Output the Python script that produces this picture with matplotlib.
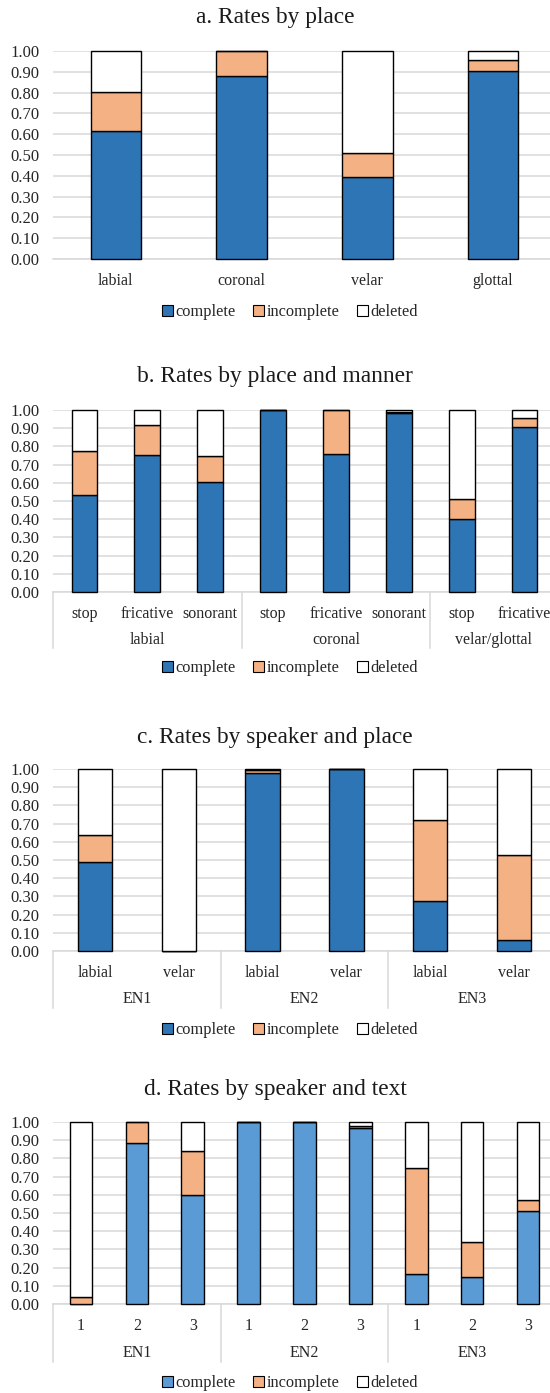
import numpy as np
import matplotlib.pyplot as plt
from matplotlib.patches import Patch
from matplotlib.ticker import FormatStrFormatter

plt.rcParams['font.family'] = ['Liberation Serif', 'DejaVu Serif']
plt.rcParams['text.color'] = '#262626'

# colours
BLUE = '#2E75B6'
BLUE_D = '#5B9BD5'
ORANGE = '#F4B183'
GRID = '#D9D9D9'

# a. Rates by place
a_cats = ['labial', 'coronal', 'velar', 'glottal']
a_complete = [0.615, 0.88, 0.395, 0.905]
a_incomplete = [0.19, 0.12, 0.115, 0.05]
a_deleted = [0.195, 0.0, 0.49, 0.045]

# b. Rates by place and manner
b_cats = ['stop', 'fricative', 'sonorant', 'stop', 'fricative', 'sonorant', 'stop', 'fricative']
b_groups = ['labial', 'coronal', 'velar/glottal']
b_sizes = [3, 3, 2]
b_complete = [0.535, 0.753, 0.607, 1.0, 0.758, 0.985, 0.40, 0.905]
b_incomplete = [0.24, 0.165, 0.142, 0.0, 0.242, 0.005, 0.11, 0.053]
b_deleted = [0.225, 0.082, 0.251, 0.0, 0.0, 0.01, 0.49, 0.042]

# c. Rates by speaker and place
c_cats = ['labial', 'velar', 'labial', 'velar', 'labial', 'velar']
c_groups = ['EN1', 'EN2', 'EN3']
c_sizes = [2, 2, 2]
c_complete = [0.49, 0.0, 0.98, 1.0, 0.275, 0.062]
c_incomplete = [0.148, 0.0, 0.012, 0.0, 0.447, 0.468]
c_deleted = [0.362, 1.0, 0.008, 0.0, 0.278, 0.47]

# d. Rates by speaker and text
d_cats = ['1', '2', '3', '1', '2', '3', '1', '2', '3']
d_groups = ['EN1', 'EN2', 'EN3']
d_sizes = [3, 3, 3]
d_complete = [0.0, 0.887, 0.60, 1.0, 1.0, 0.965, 0.165, 0.147, 0.512]
d_incomplete = [0.036, 0.113, 0.242, 0.0, 0.0, 0.015, 0.585, 0.192, 0.057]
d_deleted = [0.964, 0.0, 0.158, 0.0, 0.0, 0.02, 0.25, 0.661, 0.431]

W, H = 550, 1393
fig = plt.figure(figsize=(W / 100, H / 100), dpi=100)


def add_axes(top, bottom, left=53, right=556):
    return fig.add_axes([left / W, 1 - bottom / H, (right - left) / W, (bottom - top) / H])


def panel(ax, cats, comp, inc, dele, c1, width, title, title_y, legend_y, pad):
    x = np.arange(len(cats))
    comp = np.array(comp)
    inc = np.array(inc)
    dele = np.array(dele)
    kw = dict(width=width, edgecolor='black', linewidth=1.0, clip_on=False, zorder=3)
    ax.bar(x, comp, color=c1, **kw)
    ax.bar(x, inc, bottom=comp, color=ORANGE, **kw)
    ax.bar(x, dele, bottom=comp + inc, color='white', **kw)
    ax.set_xlim(-0.5, len(cats) - 0.5)
    ax.set_ylim(0, 1)
    ax.set_yticks(np.arange(0, 1.001, 0.1))
    ax.yaxis.set_major_formatter(FormatStrFormatter('%.2f'))
    ax.yaxis.grid(True, color=GRID, linewidth=1.1)
    ax.set_axisbelow(True)
    for s in ['top', 'right', 'left']:
        ax.spines[s].set_visible(False)
    ax.spines['bottom'].set_color(GRID)
    ax.spines['bottom'].set_linewidth(1.1)
    ax.set_xticks(x, cats)
    ax.tick_params(axis='both', length=0, colors='#262626')
    ax.tick_params(axis='y', pad=10, labelsize=12)
    ax.tick_params(axis='x', pad=pad, labelsize=11.5)
    fig.text(0.5, 1 - title_y / H, title, ha='center', va='center', fontsize=16.8,
             color='#1a1a1a')
    handles = [Patch(facecolor=c1, edgecolor='black', linewidth=0.8),
               Patch(facecolor=ORANGE, edgecolor='black', linewidth=0.8),
               Patch(facecolor='white', edgecolor='black', linewidth=0.8)]
    fig.legend(handles, ['complete', 'incomplete', 'deleted'], loc='center',
               bbox_to_anchor=(290 / W, 1 - legend_y / H), ncol=3, frameon=False,
               fontsize=11.8, handlelength=0.65, handleheight=0.65,
               handletextpad=0.15, columnspacing=1.1)


def groups(ax, names, sizes, h_px, lab_px, sep_px):
    tr = ax.get_xaxis_transform()
    start = -0.5
    ax.plot([start, start], [0, -sep_px / h_px], color=GRID, lw=1.1, transform=tr, clip_on=False)
    for name, n in zip(names, sizes):
        end = start + n
        ax.text((start + end) / 2, -lab_px / h_px, name, transform=tr, ha='center',
                va='center', fontsize=11.5)
        ax.plot([end, end], [0, -sep_px / h_px], color=GRID, lw=1.1, transform=tr,
                clip_on=False)
        start = end


ax_a = add_axes(51, 259)
panel(ax_a, a_cats, a_complete, a_incomplete, a_deleted, BLUE, 0.40,
      'a. Rates by place', 18, 312, 10)

ax_b = add_axes(410, 592)
panel(ax_b, b_cats, b_complete, b_incomplete, b_deleted, BLUE, 0.41,
      'b. Rates by place and manner', 377, 668, 10)
groups(ax_b, b_groups, b_sizes, 182, 48, 56)

ax_c = add_axes(769, 951)
panel(ax_c, c_cats, c_complete, c_incomplete, c_deleted, BLUE, 0.41,
      'c. Rates by speaker and place', 737, 1030, 10)
groups(ax_c, c_groups, c_sizes, 182, 48, 57)

ax_d = add_axes(1122, 1304)
panel(ax_d, d_cats, d_complete, d_incomplete, d_deleted, BLUE_D, 0.405,
      'd. Rates by speaker and text', 1090, 1383, 10)
groups(ax_d, d_groups, d_sizes, 182, 49, 58)

plt.savefig('out.png', dpi=100)
